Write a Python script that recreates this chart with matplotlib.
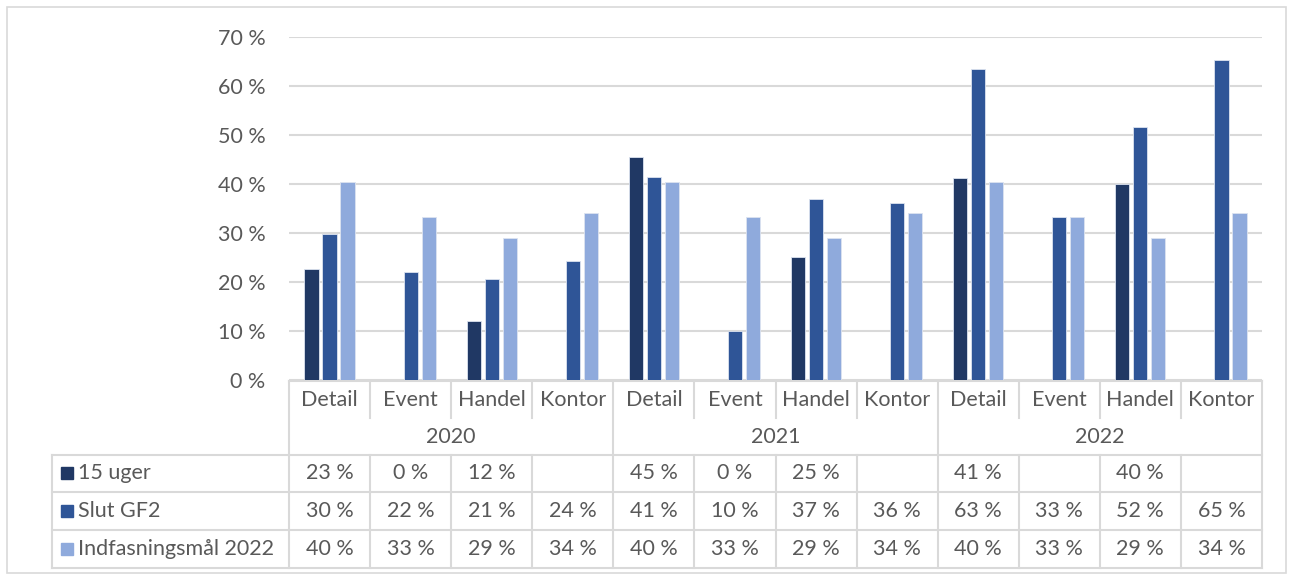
import matplotlib.pyplot as plt
from matplotlib.patches import Rectangle
from matplotlib.transforms import blended_transform_factory

plt.rcParams['font.family'] = ['Lato', 'DejaVu Sans']

# data
years = ['2020', '2021', '2022']
sectors = ['Detail', 'Event', 'Handel', 'Kontor']
series_names = ['15 uger', 'Slut GF2', 'Indfasningsmål 2022']
uger15 = [22.6, 0, 12.1, None, 45.4, 0, 25.0, None, 41.1, None, 40.0, None]
slut_gf2 = [29.8, 22.1, 20.6, 24.3, 41.3, 10.0, 36.8, 36.0, 63.3, 33.2, 51.6, 65.3]
maal_2022 = [40.3, 33.3, 28.9, 34.1, 40.3, 33.3, 28.9, 34.1, 40.3, 33.3, 28.9, 34.1]
colors = ['#203864', '#2F5597', '#8FAADC']

W, H = 1290, 575
fig = plt.figure(figsize=(W / 100, H / 100), dpi=100)
grid_c = '#D9D9D9'
txt_c = '#595959'
fs = 15.5

def fy(py):
    return 1 - py / H

def fx(px):
    return px / W

# outer frame
fig.patches.append(Rectangle((fx(7), fy(573)), fx(1286) - fx(7), fy(7) - fy(573),
                             transform=fig.transFigure, fill=False, ec=grid_c, lw=1.2))

ax = fig.add_axes([fx(289), fy(380), fx(1262) - fx(289), fy(36.6) - fy(380)])
ncat = len(years) * len(sectors)
xs = list(range(ncat))
all_series = [uger15, slut_gf2, maal_2022]
off = 0.222
wid = 0.175
for k, vals in enumerate(all_series):
    px = [x + (k - 1) * off for x, v in zip(xs, vals) if v is not None]
    pv = [v for v in vals if v is not None]
    ax.bar(px, pv, width=wid, color=colors[k], edgecolor='#DCE3F0', linewidth=0.6, zorder=3)

ax.set_xlim(-0.5, ncat - 0.5)
ax.set_ylim(0, 70)
ax.set_yticks(range(0, 71, 10))
ax.set_yticklabels([f'{t} %' for t in range(0, 71, 10)], color=txt_c, fontsize=fs)
ax.tick_params(axis='y', length=0, pad=17)
ax.set_xticks([])
ax.grid(axis='y', color=grid_c, lw=1.5, zorder=0)
for s in ax.spines.values():
    s.set_visible(False)

# data table below the axis
tr = blended_transform_factory(ax.transData, fig.transFigure)
lkw = dict(color=grid_c, lw=1.5, transform=tr, clip_on=False)
ax.plot([-0.5, ncat - 0.5], [fy(381), fy(381)], **lkw)
for i in range(ncat + 1):
    xb = i - 0.5
    if i % len(sectors) == 0:
        ax.plot([xb, xb], [fy(381), fy(568)], **lkw)
    else:
        ax.plot([xb, xb], [fy(381), fy(418)], **lkw)
        ax.plot([xb, xb], [fy(455), fy(568)], **lkw)

trf = fig.transFigure
for py in [455, 492, 530, 568]:
    fig.add_artist(plt.Line2D([fx(52), fx(1262)], [fy(py), fy(py)], color=grid_c, lw=1.5))
fig.add_artist(plt.Line2D([fx(52), fx(52)], [fy(455), fy(568)], color=grid_c, lw=1.5))

for i in range(ncat):
    ax.text(i, fy(400), sectors[i % len(sectors)], transform=tr, ha='center', va='center',
            color=txt_c, fontsize=fs)
for j, yr in enumerate(years):
    ax.text(j * len(sectors) + 1.5, fy(437), yr, transform=tr, ha='center', va='center',
            color=txt_c, fontsize=fs)

row_y = [473, 511, 549]
for k, vals in enumerate(all_series):
    yy = fy(row_y[k])
    fig.patches.append(Rectangle((fx(61), fy(row_y[k] + 6)), fx(12), 12 / H,
                                 transform=trf, color=colors[k]))
    fig.text(fx(78), yy, series_names[k], ha='left', va='center', color=txt_c, fontsize=fs)
    for i, v in enumerate(vals):
        if v is None:
            continue
        ax.text(i, yy, f'{v:.0f} %', transform=tr, ha='center', va='center',
                color=txt_c, fontsize=fs)

fig.savefig('out.png', dpi=100)
